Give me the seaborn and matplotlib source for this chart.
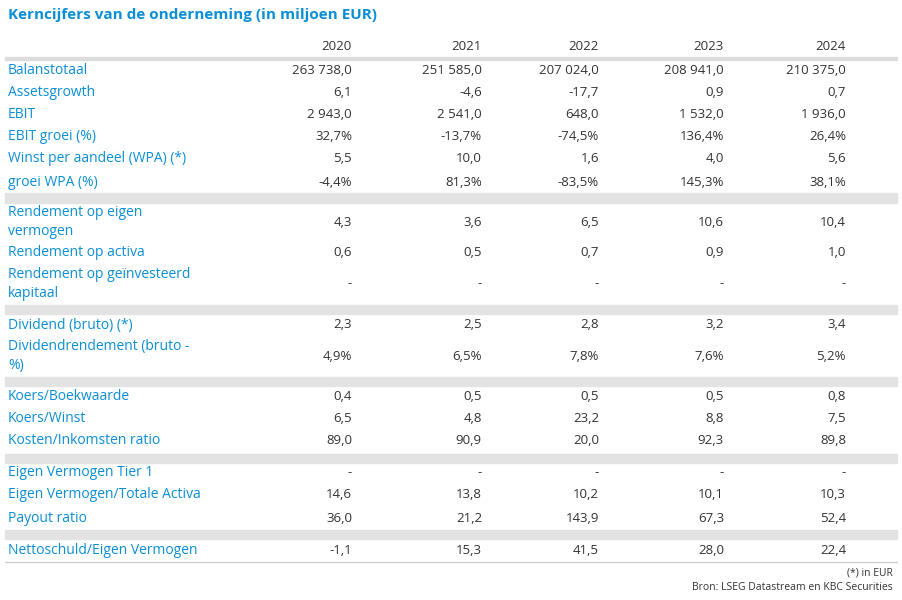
import matplotlib.pyplot as plt
import seaborn as sns

# ── Table Data ────────────────────────────────────────────
years = ['2020', '2021', '2022', '2023', '2024']
col_x = [352, 482, 599, 724, 846]

rows = [
    ("Balanstotaal", 70, ['263 738,0', '251 585,0', '207 024,0', '208 941,0', '210 375,0']),
    ("Assetsgrowth", 92, ['6,1', '-4,6', '-17,7', '0,9', '0,7']),
    ("EBIT", 114, ['2 943,0', '2 541,0', '648,0', '1 532,0', '1 936,0']),
    ("EBIT groei (%)", 137, ['32,7%', '-13,7%', '-74,5%', '136,4%', '26,4%']),
    ("Winst per aandeel (WPA) (*)", 159, ['5,5', '10,0', '1,6', '4,0', '5,6']),
    ("groei WPA (%)", 182, ['-4,4%', '81,3%', '-83,5%', '145,3%', '38,1%']),
    ("Rendement op eigen\nvermogen", 222, ['4,3', '3,6', '6,5', '10,6', '10,4']),
    ("Rendement op activa", 253, ['0,6', '0,5', '0,7', '0,9', '1,0']),
    ("Rendement op geïnvesteerd\nkapitaal", 284, ['-', '-', '-', '-', '-']),
    ("Dividend (bruto) (*)", 325, ['2,3', '2,5', '2,8', '3,2', '3,4']),
    ("Dividendrendement (bruto -\n%)", 356, ['4,9%', '6,5%', '7,8%', '7,6%', '5,2%']),
    ("Koers/Boekwaarde", 397, ['0,4', '0,5', '0,5', '0,5', '0,8']),
    ("Koers/Winst", 419, ['6,5', '4,8', '23,2', '8,8', '7,5']),
    ("Kosten/Inkomsten ratio", 441, ['89,0', '90,9', '20,0', '92,3', '89,8']),
    ("Eigen Vermogen Tier 1", 473, ['-', '-', '-', '-', '-']),
    ("Eigen Vermogen/Totale Activa", 495, ['14,6', '13,8', '10,2', '10,1', '10,3']),
    ("Payout ratio", 518, ['36,0', '21,2', '143,9', '67,3', '52,4']),
    ("Nettoschuld/Eigen Vermogen", 550, ['-1,1', '15,3', '41,5', '28,0', '22,4']),
]
bands = [(193, 203), (305, 314), (377, 386), (454, 463), (530, 539)]

# ── Set Style ─────────────────────────────────────────────
sns.set_theme(style="white")
plt.rcParams['font.family'] = ['Open Sans', 'DejaVu Sans']
blue = '#0a8fd6'
grey_txt = '#333333'

fig, ax = plt.subplots(figsize=(9.02, 6.00), dpi=100)
fig.subplots_adjust(left=0, right=1, top=1, bottom=0)
ax.set_xlim(0, 902)
ax.set_ylim(600, 0)
ax.axis('off')

# Title and header
ax.text(8, 15, 'Kerncijfers van de onderneming (in miljoen EUR)',
        color=blue, fontsize=11, fontweight='bold', va='center')
for x, yr in zip(col_x, years):
    ax.text(x, 46, yr, ha='right', va='center', fontsize=9.5, color=grey_txt)
ax.axhspan(57, 60, xmin=0.005, xmax=0.995, color='#dcdcdc')

# Grey separator bands
for y0, y1 in bands:
    ax.axhspan(y0, y1, xmin=0.005, xmax=0.995, color='#e3e3e3')
ax.axhline(562, xmin=0.005, xmax=0.995, color='#cfcfcf', linewidth=1)

# Rows
for label, y, vals in rows:
    ax.text(8, y, label, color=blue, fontsize=10, va='center', linespacing=1.3)
    for x, v in zip(col_x, vals):
        ax.text(x, y, v, ha='right', va='center', fontsize=9.5, color=grey_txt)

# Footnotes
ax.text(893, 573, '(*) in EUR', ha='right', va='center', fontsize=7.5, color=grey_txt)
ax.text(893, 587, 'Bron: LSEG Datastream en KBC Securities',
        ha='right', va='center', fontsize=7.5, color=grey_txt)

plt.savefig('out.png', dpi=100)
